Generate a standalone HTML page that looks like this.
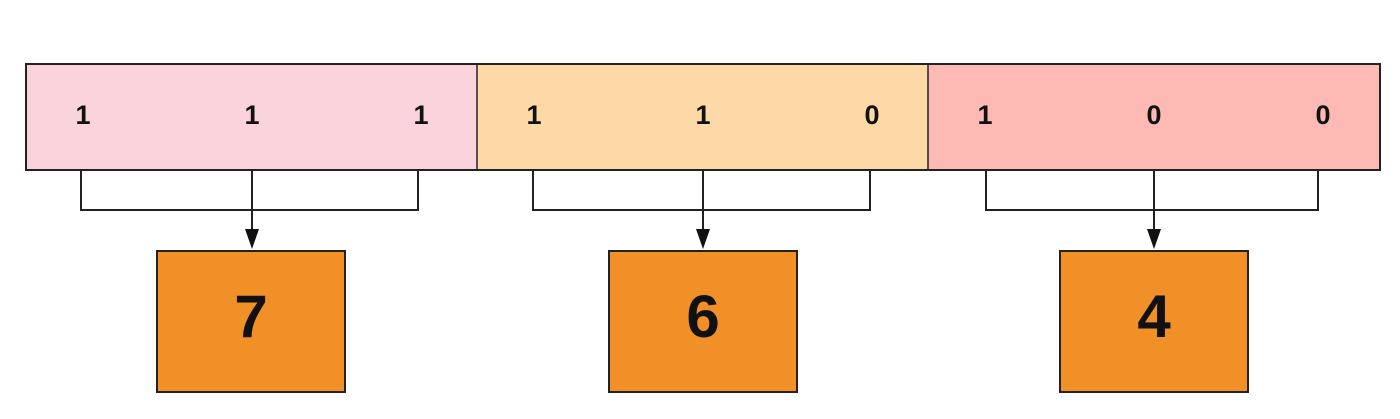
<!DOCTYPE html>
<html>
<head>
<meta charset="utf-8">
<style>
html,body{margin:0;padding:0;background:#fff;}
svg{display:block;}
text{font-family:"Liberation Sans",sans-serif;font-weight:bold;fill:#111;}
</style>
</head>
<body>
<svg width="1400" height="419" viewBox="0 0 1400 419" xmlns="http://www.w3.org/2000/svg">
  <!-- bar sections -->
  <rect x="26" y="64" width="451" height="106" fill="#fad3dd"/>
  <rect x="477" y="64" width="451" height="106" fill="#fdd9a8"/>
  <rect x="928" y="64" width="452" height="106" fill="#fdb9b3"/>
  <rect x="26" y="64" width="1354" height="106" fill="none" stroke="#222" stroke-width="2"/>
  <line x1="477" y1="64" x2="477" y2="170" stroke="#222" stroke-width="1.5"/>
  <line x1="928" y1="64" x2="928" y2="170" stroke="#222" stroke-width="1.5"/>

  <!-- bits -->
  <g font-size="27" text-anchor="middle">
    <text x="83" y="124">1</text>
    <text x="252" y="124">1</text>
    <text x="421" y="124">1</text>
    <text x="534" y="124">1</text>
    <text x="703" y="124">1</text>
    <text x="872" y="124">0</text>
    <text x="985" y="124">1</text>
    <text x="1154" y="124">0</text>
    <text x="1323" y="124">0</text>
  </g>

  <!-- brackets -->
  <g fill="none" stroke="#222" stroke-width="2">
    <polyline points="81,170 81,210 418,210 418,170"/>
    <polyline points="533,170 533,210 870,210 870,170"/>
    <polyline points="986,170 986,210 1318,210 1318,170"/>
  </g>
  <!-- arrows -->
  <g stroke="#222" stroke-width="2">
    <line x1="252" y1="170" x2="252" y2="232"/>
    <line x1="703" y1="170" x2="703" y2="232"/>
    <line x1="1154" y1="170" x2="1154" y2="232"/>
  </g>
  <g fill="#111">
    <polygon points="245,229 259,229 252,249"/>
    <polygon points="696,229 710,229 703,249"/>
    <polygon points="1147,229 1161,229 1154,249"/>
  </g>

  <!-- result boxes -->
  <g fill="#f09026" stroke="#222" stroke-width="2">
    <rect x="157" y="251" width="188" height="141"/>
    <rect x="609" y="251" width="188" height="141"/>
    <rect x="1060" y="251" width="188" height="141"/>
  </g>
  <g font-size="60" text-anchor="middle">
    <text x="251" y="337">7</text>
    <text x="703" y="337">6</text>
    <text x="1154" y="337">4</text>
  </g>
</svg>
</body>
</html>
